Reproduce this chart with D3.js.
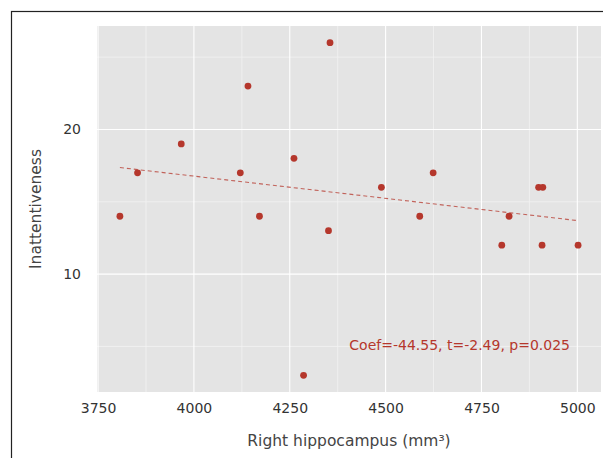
<!DOCTYPE html>
<html>
<head>
<meta charset="utf-8">
<script src="https://cdn.jsdelivr.net/npm/d3@7"></script>
<style>
  html, body { margin: 0; padding: 0; background: #fff; }
  text { font-family: "DejaVu Sans", sans-serif; }
</style>
</head>
<body>
<div id="vis"></div>
<script>
// right hippocampus volume (mm3) vs inattentiveness score
const hippocampus = [3807, 3853, 3967, 4121, 4141, 4171, 4261, 4286, 4351, 4355,
  4489, 4589, 4624, 4803, 4822, 4899, 4910, 4908, 5002]
const inattention = [14, 17, 19, 17, 23, 14, 18, 3, 13, 26,
  16, 14, 17, 12, 14, 16, 16, 12, 12]
const xTicks = [3750, 4000, 4250, 4500, 4750, 5000]
const xMinor = [3875, 4125, 4375, 4625, 4875]
const yTicks = [10, 20]
const yMinor = [5, 15, 25]
const note = 'Coef=-44.55, t=-2.49, p=0.025'

const W = 603, H = 458
const m = { top: 26, right: 2, bottom: 66, left: 97 }
const red = '#b5372c'

const svg = d3.select('#vis').append('svg')
  .attr('width', W)
  .attr('height', H)

// outer frame
svg.append('rect')
  .attr('x', 11.5).attr('y', 11.5)
  .attr('width', W).attr('height', H)
  .attr('fill', 'none')
  .attr('stroke', '#222')
  .attr('stroke-width', 1.2)

// ggplot-like 5% expansion
const xr = d3.extent(hippocampus), yr = d3.extent(inattention)
const xPad = (xr[1] - xr[0]) * 0.05, yPad = (yr[1] - yr[0]) * 0.05

const x = d3.scaleLinear()
  .domain([xr[0] - xPad, xr[1] + xPad])
  .range([m.left, W - m.right])
const y = d3.scaleLinear()
  .domain([yr[0] - yPad, yr[1] + yPad])
  .range([H - m.bottom, m.top])

svg.append('rect')
  .attr('x', m.left).attr('y', m.top)
  .attr('width', W - m.right - m.left)
  .attr('height', H - m.bottom - m.top)
  .attr('fill', '#e4e4e4')

const grid = svg.append('g')
grid.selectAll('.xmin').data(xMinor).enter().append('line')
  .attr('x1', (d) => x(d)).attr('x2', (d) => x(d))
  .attr('y1', m.top).attr('y2', H - m.bottom)
  .attr('stroke', '#f2f2f2').attr('stroke-width', 0.8)
grid.selectAll('.ymin').data(yMinor).enter().append('line')
  .attr('y1', (d) => y(d)).attr('y2', (d) => y(d))
  .attr('x1', m.left).attr('x2', W - m.right)
  .attr('stroke', '#f2f2f2').attr('stroke-width', 0.8)
grid.selectAll('.xmaj').data(xTicks).enter().append('line')
  .attr('x1', (d) => x(d)).attr('x2', (d) => x(d))
  .attr('y1', m.top).attr('y2', H - m.bottom)
  .attr('stroke', '#fff').attr('stroke-width', 1.1)
grid.selectAll('.ymaj').data(yTicks).enter().append('line')
  .attr('y1', (d) => y(d)).attr('y2', (d) => y(d))
  .attr('x1', m.left).attr('x2', W - m.right)
  .attr('stroke', '#fff').attr('stroke-width', 1.1)

// axes (labels only, no tick marks)
const xAxis = svg.append('g')
  .attr('transform', 'translate(0,' + (H - m.bottom) + ')')
  .call(d3.axisBottom(x).tickValues(xTicks).tickFormat(d3.format('d')).tickSize(0).tickPadding(11))
const yAxis = svg.append('g')
  .attr('transform', 'translate(' + m.left + ',0)')
  .call(d3.axisLeft(y).tickValues(yTicks).tickFormat(d3.format('d')).tickSize(0).tickPadding(16))
;[xAxis, yAxis].forEach((g) => {
  g.select('.domain').remove()
  g.selectAll('text')
    .attr('fill', '#333')
    .style('font-size', '14px')
})

// least squares fit, drawn over the data range
const mx = d3.mean(hippocampus), my = d3.mean(inattention)
let sxy = 0, sxx = 0
hippocampus.forEach((v, i) => {
  sxy += (v - mx) * (inattention[i] - my)
  sxx += (v - mx) * (v - mx)
})
const slope = sxy / sxx
const fit = (v) => my + slope * (v - mx)

svg.append('line')
  .attr('x1', x(xr[0])).attr('y1', y(fit(xr[0])))
  .attr('x2', x(xr[1])).attr('y2', y(fit(xr[1])))
  .attr('stroke', red)
  .attr('stroke-opacity', 0.75)
  .attr('stroke-width', 1.1)
  .attr('stroke-dasharray', '4,3')

svg.append('g').selectAll('circle')
  .data(hippocampus)
  .enter()
  .append('circle')
  .attr('cx', (d) => x(d))
  .attr('cy', (d, i) => y(inattention[i]))
  .attr('r', 3.4)
  .attr('fill', red)

svg.append('text')
  .attr('x', 570)
  .attr('y', 350)
  .attr('text-anchor', 'end')
  .attr('fill', red)
  .style('font-size', '14px')
  .text(note)

svg.append('text')
  .attr('x', (m.left + W - m.right) / 2)
  .attr('y', 446)
  .attr('text-anchor', 'middle')
  .attr('fill', '#444')
  .style('font-size', '15.5px')
  .text('Right hippocampus (mm³)')

svg.append('text')
  .attr('transform', 'translate(41,' + (m.top + H - m.bottom) / 2 + ')rotate(-90)')
  .attr('text-anchor', 'middle')
  .attr('fill', '#444')
  .style('font-size', '15.5px')
  .text('Inattentiveness')
</script>
</body>
</html>
